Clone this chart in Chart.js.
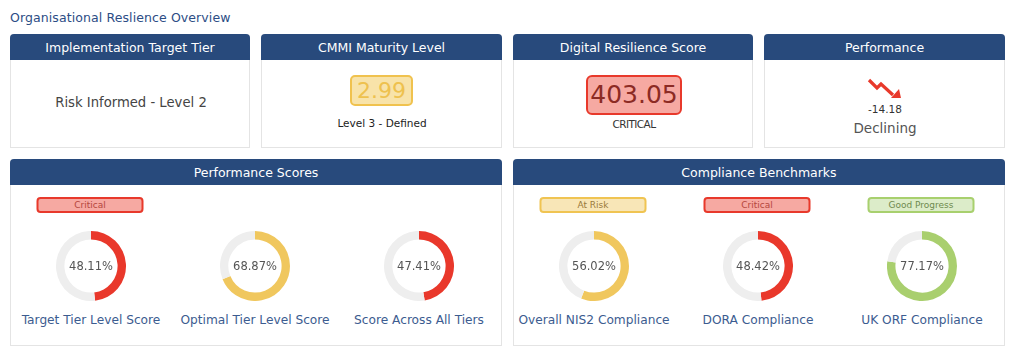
<!DOCTYPE html>
<html>
<head>
<meta charset="utf-8">
<script src="https://cdn.jsdelivr.net/npm/chart.js@4"></script>
<style>
  html,body{margin:0;padding:0;background:#fff;width:1024px;height:363px;overflow:hidden;}
  body{font-family:"DejaVu Sans","Liberation Sans",sans-serif;position:relative;}
  .abs{position:absolute;}
  .title{left:10px;top:10px;font-size:12.5px;color:#2c4d85;letter-spacing:0.1px;}
  .card{position:absolute;border:1px solid #e4e4e4;border-top:none;background:#fff;box-sizing:border-box;border-radius:4px 4px 0 0;}
  .hdr{position:absolute;left:-1px;right:-1px;top:0;height:26px;background:#284a7c;color:#fff;font-size:12.5px;text-align:center;line-height:27px;border-radius:4px 4px 0 0;}
  .ctr{position:absolute;text-align:center;transform:translateX(-50%);white-space:nowrap;}
  .badge{position:absolute;box-sizing:border-box;border-radius:4px;border:2px solid;text-align:center;font-size:9px;line-height:12px;height:16px;width:107px;transform:translateX(-50%);}
  canvas{position:absolute;}
</style>
</head>
<body>
<div class="abs title">Organisational Reslience Overview</div>

<div class="card" style="left:10px;top:34px;width:240px;height:114px;"><div class="hdr">Implementation Target Tier</div>
  <div class="ctr" style="left:120px;top:61px;font-size:13.2px;color:#444;">Risk Informed - Level 2</div>
</div>
<div class="card" style="left:261px;top:34px;width:241px;height:114px;"><div class="hdr">CMMI Maturity Level</div>
  <div class="abs" style="left:88px;top:41px;width:63px;height:31px;box-sizing:border-box;background:#f8e3a9;border:2px solid #f0c24e;border-radius:5px;text-align:center;font-size:22px;line-height:27px;color:#eec14e;">2.99</div>
  <div class="ctr" style="left:120px;top:83px;font-size:10.5px;color:#222;">Level 3 - Defined</div>
</div>
<div class="card" style="left:513px;top:34px;width:240px;height:114px;"><div class="hdr">Digital Resilience Score</div>
  <div class="abs" style="left:72px;top:41px;width:96px;height:40px;box-sizing:border-box;background:#f6a9a2;border:2px solid #e8392b;border-radius:6px;text-align:center;font-size:25px;line-height:36px;color:#8c2b24;">403.05</div>
  <div class="ctr" style="left:120px;top:84px;font-size:10.5px;color:#333;letter-spacing:-0.6px;">CRITICAL</div>
</div>
<div class="card" style="left:764px;top:34px;width:241px;height:114px;"><div class="hdr">Performance</div>
  <svg class="abs" style="left:0;top:0;" width="241" height="114">
    <polyline points="104,46 112,54 116,50 128,61" fill="none" stroke="#e8392b" stroke-width="3.2"/>
    <polygon points="136,64 126,64 134,55" fill="#e8392b"/>
  </svg>
  <div class="ctr" style="left:120px;top:69px;font-size:10.5px;color:#333;">-14.18</div>
  <div class="ctr" style="left:120px;top:86px;font-size:13.5px;color:#555;">Declining</div>
</div>

<div class="card" style="left:10px;top:159px;width:492px;height:187px;"><div class="hdr">Performance Scores</div></div>
<div class="card" style="left:513px;top:159px;width:492px;height:187px;"><div class="hdr">Compliance Benchmarks</div></div>

<div id="gauges"></div>

<script>
const gaugeLabels = ["Target Tier Level Score","Optimal Tier Level Score","Score Across All Tiers","Overall NIS2 Compliance","DORA Compliance","UK ORF Compliance"];
const gaugeValues = [48.11, 68.87, 47.41, 56.02, 48.42, 77.17];
const gaugeStatus = ["Critical", "", "", "At Risk", "Critical", "Good Progress"];
const gaugeColors = ["#e9382b","#f0c75e","#e9382b","#f0c75e","#e9382b","#a9cf6e"];
const statusStyles = {
  "Critical": {bg:"#f6a9a2", border:"#e8392b", text:"#b5473d"},
  "At Risk": {bg:"#f8e6b7", border:"#f0c452", text:"#9a7a3a"},
  "Good Progress": {bg:"#dcecc9", border:"#a8d06e", text:"#6e8a4e"}
};
const centersX = [91, 255, 419, 594, 758, 922];
const centerY = 266;
const remainderColor = "#eeeeee";

const host = document.getElementById("gauges");
const centerText = {
  id: "centerText",
  afterDraw(chart) {
    const {ctx, chartArea} = chart;
    const v = chart.data.datasets[0].data[0];
    ctx.save();
    ctx.font = '11.5px "DejaVu Sans", sans-serif';
    ctx.fillStyle = "#555";
    ctx.textAlign = "center";
    ctx.textBaseline = "middle";
    ctx.fillText(v.toFixed(2) + "%", (chartArea.left + chartArea.right) / 2, (chartArea.top + chartArea.bottom) / 2 + 1);
    ctx.restore();
  }
};

gaugeValues.forEach((val, i) => {
  const size = 70;
  const cv = document.createElement("canvas");
  cv.width = size; cv.height = size;
  cv.style.left = (centersX[i] - size / 2) + "px";
  cv.style.top = (centerY - size / 2) + "px";
  cv.style.width = size + "px"; cv.style.height = size + "px";
  host.appendChild(cv);
  new Chart(cv, {
    type: "doughnut",
    data: {
      labels: [gaugeLabels[i], ""],
      datasets: [{
        data: [val, 100 - val],
        backgroundColor: [gaugeColors[i], remainderColor],
        borderWidth: 0,
        hoverOffset: 0
      }]
    },
    options: {
      responsive: false,
      animation: false,
      events: [],
      cutout: "76%",
      layout: {padding: 0},
      plugins: {legend: {display: false}, tooltip: {enabled: false}}
    },
    plugins: [centerText]
  });

  const lab = document.createElement("div");
  lab.className = "ctr";
  lab.style.left = centersX[i] + "px";
  lab.style.top = "313px";
  lab.style.fontSize = "12.2px";
  lab.style.color = "#3c5c90";
  lab.textContent = gaugeLabels[i];
  host.appendChild(lab);

  const st = gaugeStatus[i];
  if (st) {
    const s = statusStyles[st];
    const b = document.createElement("div");
    b.className = "badge";
    b.style.left = (centersX[i] - 1) + "px";
    b.style.top = "197px";
    b.style.background = s.bg;
    b.style.borderColor = s.border;
    b.style.color = s.text;
    b.textContent = st;
    host.appendChild(b);
  }
});
</script>
</body>
</html>
